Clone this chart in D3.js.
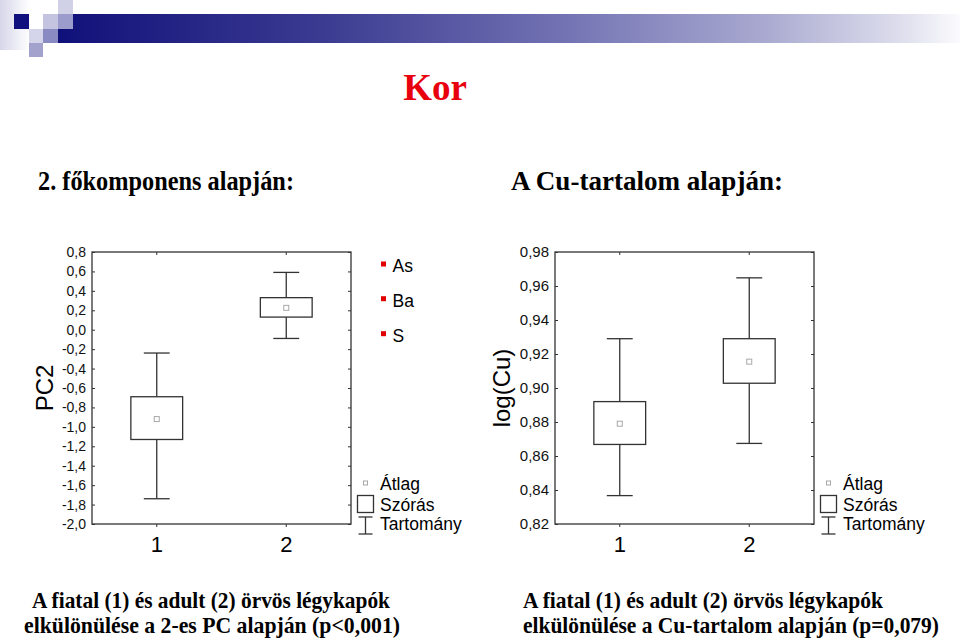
<!DOCTYPE html>
<html>
<head>
<meta charset="utf-8">
<script src="https://cdn.jsdelivr.net/npm/d3@7"></script>
<style>
  html, body { margin: 0; padding: 0; background: #fff; }
  svg { display: block; }
</style>
</head>
<body>
<svg id="chart" width="960" height="643"></svg>
<script>
// ---------------- DATA ----------------
const groups = ["1", "2"];

// Left panel: PC2 (2nd principal component)
const pcMean   = [-0.92, 0.225];
const pcSdLow  = [-1.13, 0.13];
const pcSdHigh = [-0.69, 0.33];
const pcMin    = [-1.74, -0.09];
const pcMax    = [-0.24, 0.59];
const pcTicks  = [0.8, 0.6, 0.4, 0.2, 0.0, -0.2, -0.4, -0.6, -0.8, -1.0, -1.2, -1.4, -1.6, -1.8, -2.0];
const pcDomain = [-2.0, 0.8];

// Right panel: log(Cu)
const cuMean   = [0.879, 0.9155];
const cuSdLow  = [0.8668, 0.9028];
const cuSdHigh = [0.892, 0.929];
const cuMin    = [0.8367, 0.8674];
const cuMax    = [0.929, 0.9648];
const cuTicks  = [0.98, 0.96, 0.94, 0.92, 0.90, 0.88, 0.86, 0.84, 0.82];
const cuDomain = [0.82, 0.98];

const pcVariables = ["As", "Ba", "S"];
const legendLabels = ["Átlag", "Szórás", "Tartomány"];

const titleText = "Kor";
const headLeft = "2. főkomponens alapján:";
const headRight = "A Cu-tartalom alapján:";
const captionLeft = ["A fiatal (1) és adult (2) örvös légykapók",
                     "elkülönülése a 2-es PC alapján (p<0,001)"];
const captionRight = ["A fiatal (1) és adult (2) örvös légykapók",
                      "elkülönülése a Cu-tartalom alapján (p=0,079)"];

// ---------------- DRAW ----------------
const svg = d3.select("#chart");
const SANS = "'Liberation Sans', Arial, sans-serif";
const SERIF = "'Liberation Serif', 'Times New Roman', serif";
const INK = "#333";

// header decoration
const defs = svg.append("defs");
const g1 = defs.append("linearGradient").attr("id", "barGrad")
  .attr("x1", "0").attr("x2", "1").attr("y1", "0").attr("y2", "0");
[[0, "#10107a"], [0.3, "#3c3c92"], [0.55, "#7070b2"], [0.78, "#a8a8d0"], [0.93, "#dcdcec"], [1, "#fbfbfd"]]
  .forEach(([o, c]) => g1.append("stop").attr("offset", o).attr("stop-color", c));
const g2 = defs.append("linearGradient").attr("id", "stripGrad")
  .attr("x1", "0").attr("x2", "1").attr("y1", "0").attr("y2", "0");
[[0, "#d6d6ea"], [1, "#ffffff"]].forEach(([o, c]) => g2.append("stop").attr("offset", o).attr("stop-color", c));

const deco = svg.append("g");
deco.append("rect").attr("x", 0).attr("y", 0).attr("width", 30).attr("height", 50).attr("fill", "url(#stripGrad)");
deco.append("rect").attr("x", 58).attr("y", 14).attr("width", 902).attr("height", 29).attr("fill", "url(#barGrad)");
[
  [14, 14, 15, 15, "#10107e"],
  [58, 0, 15, 14, "#d0d0e7"],
  [43, 14, 15, 15, "#c4c4e1"],
  [58, 14, 15, 15, "#9c9ccc"],
  [29, 29, 14, 14, "#d4d4ea"],
  [43, 29, 15, 14, "#8a8ac2"],
  [29, 43, 14, 14, "#a2a2cd"]
].forEach(([x, y, w, h, c]) => deco.append("rect").attr("x", x).attr("y", y).attr("width", w).attr("height", h).attr("fill", c));

// titles
svg.append("text").attr("x", 435).attr("y", 100).attr("text-anchor", "middle")
  .attr("font-family", SERIF).attr("font-weight", "bold").attr("font-size", 37)
  .attr("fill", "#e8000c").text(titleText);

function serifText(txt, x, y, size, len, anchor) {
  const t = svg.append("text").attr("x", x).attr("y", y)
    .attr("font-family", SERIF).attr("font-weight", "bold").attr("font-size", size)
    .attr("fill", "#000").attr("text-anchor", anchor || "start").text(txt);
  if (len) t.attr("textLength", len).attr("lengthAdjust", "spacingAndGlyphs");
  return t;
}
serifText(headLeft, 38, 190, 28, 256);
serifText(headRight, 511, 190, 28, 272);

serifText(captionLeft[0], 32, 608, 22.5, 358);
serifText(captionLeft[1], 24, 633, 22.5, 376);
serifText(captionRight[0], 523, 608, 22.5, 360);
serifText(captionRight[1], 523, 633, 22.5, 416);

// one box chart panel
function panel(opt) {
  const { left, right, top, bottom, domain, ticks, fmt, mean, sdLo, sdHi, mn, mx, yTitle, yTitleX, tickFont } = opt;
  const g = svg.append("g");
  const x = d3.scaleBand().domain(groups).range([left, right]).paddingInner(0).paddingOuter(0);
  const y = d3.scaleLinear().domain(domain).range([bottom, top]);
  const boxW = x.bandwidth() * 0.4;
  const capW = boxW * 0.5;

  // frame
  g.append("rect").attr("x", left).attr("y", top).attr("width", right - left).attr("height", bottom - top)
    .attr("fill", "none").attr("stroke", INK).attr("stroke-width", 1.3);

  // left axis with labels
  const ax = g.append("g").attr("transform", `translate(${left},0)`)
    .call(d3.axisLeft(y).tickValues(ticks).tickSizeInner(-3).tickSizeOuter(0).tickPadding(6)
      .tickFormat(d => fmt(d).replace(".", ",").replace("\u2212", "-")));
  ax.select(".domain").remove();
  ax.selectAll("line").attr("stroke", INK);
  ax.selectAll("text").attr("font-family", SANS).attr("font-size", tickFont).attr("fill", "#111");

  const axR = g.append("g").attr("transform", `translate(${right},0)`)
    .call(d3.axisRight(y).tickValues(ticks).tickSizeInner(-3).tickSizeOuter(0).tickFormat(""));
  axR.select(".domain").remove();
  axR.selectAll("line").attr("stroke", INK);

  const axB = g.append("g").attr("transform", `translate(0,${bottom})`)
    .call(d3.axisBottom(x).tickSizeInner(3).tickSizeOuter(0).tickPadding(9));
  axB.select(".domain").remove();
  axB.selectAll("line").attr("stroke", INK);
  axB.selectAll("text").attr("font-family", SANS).attr("font-size", 22).attr("fill", "#000");

  const axT = g.append("g").attr("transform", `translate(0,${top})`)
    .call(d3.axisTop(x).tickSizeInner(-3).tickSizeOuter(0).tickFormat(""));
  axT.select(".domain").remove();
  axT.selectAll("line").attr("stroke", INK);

  // y title
  g.append("text")
    .attr("transform", `translate(${yTitleX},${(top + bottom) / 2}) rotate(-90)`)
    .attr("text-anchor", "middle").attr("font-family", SANS).attr("font-size", 24).attr("fill", "#000")
    .text(yTitle);

  // boxes
  const rows = groups.map((k, i) => ({ k, mean: mean[i], lo: sdLo[i], hi: sdHi[i], mn: mn[i], mx: mx[i] }));
  const b = g.selectAll(".bx").data(rows).enter().append("g");
  const cx = d => x(d.k) + x.bandwidth() / 2;
  b.append("line").attr("x1", cx).attr("x2", cx).attr("y1", d => y(d.mx)).attr("y2", d => y(d.hi))
    .attr("stroke", INK).attr("stroke-width", 1.3);
  b.append("line").attr("x1", cx).attr("x2", cx).attr("y1", d => y(d.lo)).attr("y2", d => y(d.mn))
    .attr("stroke", INK).attr("stroke-width", 1.3);
  b.append("line").attr("x1", d => cx(d) - capW / 2).attr("x2", d => cx(d) + capW / 2)
    .attr("y1", d => y(d.mx)).attr("y2", d => y(d.mx)).attr("stroke", INK).attr("stroke-width", 1.3);
  b.append("line").attr("x1", d => cx(d) - capW / 2).attr("x2", d => cx(d) + capW / 2)
    .attr("y1", d => y(d.mn)).attr("y2", d => y(d.mn)).attr("stroke", INK).attr("stroke-width", 1.3);
  b.append("rect").attr("x", d => cx(d) - boxW / 2).attr("width", boxW)
    .attr("y", d => y(d.hi)).attr("height", d => y(d.lo) - y(d.hi))
    .attr("fill", "#fff").attr("stroke", INK).attr("stroke-width", 1.3);
  b.append("rect").attr("x", d => cx(d) - 2.5).attr("y", d => y(d.mean) - 2.5)
    .attr("width", 5).attr("height", 5).attr("fill", "#fff").attr("stroke", "#a8a8a8").attr("stroke-width", 1);

  // stats legend
  const lx = right + 6.5;   // left edge of legend symbols
  const lg = g.append("g");
  lg.append("rect").attr("x", lx + 6).attr("y", 481).attr("width", 4).attr("height", 4)
    .attr("fill", "#fff").attr("stroke", "#a8a8a8").attr("stroke-width", 1);
  lg.append("rect").attr("x", lx).attr("y", 495.5).attr("width", 16).attr("height", 17)
    .attr("fill", "#fff").attr("stroke", INK).attr("stroke-width", 1.3);
  lg.append("line").attr("x1", lx + 8).attr("x2", lx + 8).attr("y1", 517).attr("y2", 534).attr("stroke", INK).attr("stroke-width", 1.3);
  lg.append("line").attr("x1", lx + 1).attr("x2", lx + 15).attr("y1", 517).attr("y2", 517).attr("stroke", INK).attr("stroke-width", 1.3);
  lg.append("line").attr("x1", lx + 1).attr("x2", lx + 15).attr("y1", 534).attr("y2", 534).attr("stroke", INK).attr("stroke-width", 1.3);
  const ly = [490, 510.5, 530];
  legendLabels.forEach((t, i) => lg.append("text").attr("x", lx + 22.5).attr("y", ly[i])
    .attr("font-family", SANS).attr("font-size", 17.5).attr("fill", "#000").text(t));
  return { x, y };
}

panel({
  left: 92, right: 351, top: 252, bottom: 524, domain: pcDomain, ticks: pcTicks,
  fmt: d3.format(".1f"), mean: pcMean, sdLo: pcSdLow, sdHi: pcSdHigh, mn: pcMin, mx: pcMax,
  yTitle: "PC2", yTitleX: 52.5, tickFont: 14
});
panel({
  left: 555, right: 814, top: 252, bottom: 524, domain: cuDomain, ticks: cuTicks,
  fmt: d3.format(".2f"), mean: cuMean, sdLo: cuSdLow, sdHi: cuSdHigh, mn: cuMin, mx: cuMax,
  yTitle: "log(Cu)", yTitleX: 510, tickFont: 15
});

// PC2 variable list (red markers)
const vy = [272, 306.7, 341.7];
pcVariables.forEach((v, i) => {
  svg.append("rect").attr("x", 381).attr("y", vy[i] - 10.5).attr("width", 5).attr("height", 5).attr("fill", "#e00000");
  svg.append("text").attr("x", 392.5).attr("y", vy[i]).attr("font-family", SANS).attr("font-size", 17.5)
    .attr("fill", "#000").text(v);
});
</script>
</body>
</html>
